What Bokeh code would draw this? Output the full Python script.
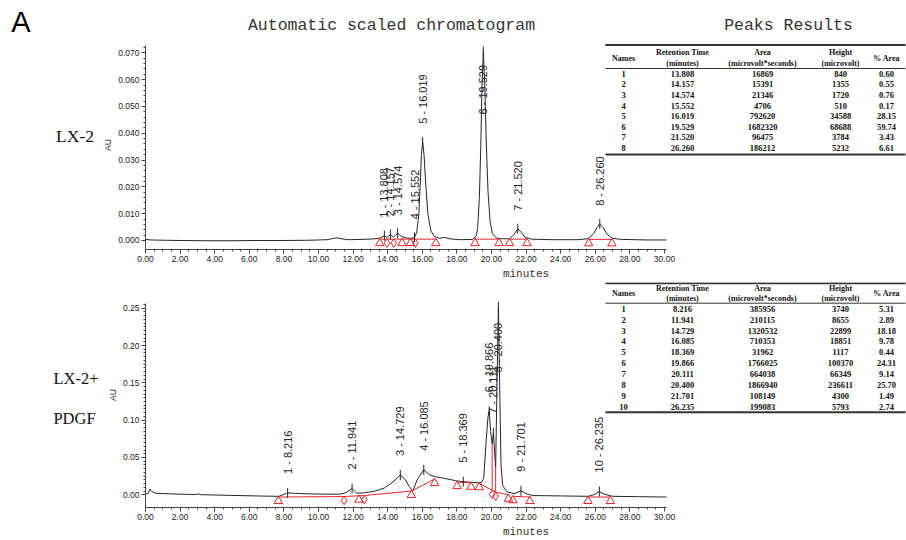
import numpy as np
from bokeh.plotting import figure
from bokeh.models import Range1d, FixedTicker, NumeralTickFormatter, ColumnDataSource
from bokeh.layouts import column, row
from bokeh.embed import file_html
from bokeh.resources import INLINE
from bokeh.core.properties import value

# ---------------- data: LX-2 ----------------
lx2_t = [0.0, 0.3, 1.0, 2.0, 3.5, 5.0, 6.5, 8.0, 9.5, 10.5, 10.8, 11.06, 11.3, 11.7, 12.5,
         13.2, 13.55, 13.808, 13.95, 14.157, 14.33, 14.574, 14.8, 15.1, 15.4, 15.552, 15.68,
         15.8, 15.88, 15.95, 16.019, 16.1, 16.2, 16.32, 16.5, 16.7, 17.0, 17.29, 17.6, 18.2,
         18.9, 19.1, 19.2, 19.3, 19.38, 19.45, 19.529, 19.61, 19.70, 19.80, 19.92, 20.05, 20.3,
         20.7, 21.05, 21.3, 21.52, 21.72, 21.95, 22.3, 23.5, 25.0, 25.6, 25.9, 26.1, 26.26,
         26.45, 26.7, 27.0, 27.5, 29.0, 30.12]
lx2_au = [0.0004, 0.0002, 0.0001, 0.0000, -0.0001, -0.0001, 0.0000, 0.0000, 0.0001, 0.0003,
          0.0007, 0.0010, 0.0007, 0.0003, 0.0004, 0.0006, 0.0009, 0.0018, 0.0011, 0.0022,
          0.0013, 0.0027, 0.0015, 0.0009, 0.0008, 0.0012, 0.0030, 0.0100, 0.0210, 0.0320,
          0.0368, 0.0320, 0.0210, 0.0100, 0.0035, 0.0015, 0.0008, 0.0012, 0.0006, 0.0003,
          0.0004, 0.0015, 0.0045, 0.0160, 0.0350, 0.0580, 0.0705, 0.0580, 0.0360, 0.0180,
          0.0070, 0.0025, 0.0009, 0.0006, 0.0007, 0.0022, 0.0044, 0.0030, 0.0012, 0.0005,
          0.0003, 0.0003, 0.0007, 0.0025, 0.0048, 0.0062, 0.0048, 0.0022, 0.0008, 0.0004,
          0.0002, 0.0002]
lx2_names = [1, 2, 3, 4, 5, 6, 7, 8]
lx2_rt = [13.808, 14.157, 14.574, 15.552, 16.019, 19.529, 21.520, 26.260]
lx2_apex = [0.0018, 0.0022, 0.0027, 0.0012, 0.0368, 0.0705, 0.0044, 0.0062]
lx2_area = [16869, 15391, 21346, 4706, 792620, 1682320, 96475, 186212]
lx2_height = [840, 1355, 1720, 510, 34588, 68688, 3784, 5232]
lx2_pct = [0.60, 0.55, 0.76, 0.17, 28.15, 59.74, 3.43, 6.61]
lx2_base_t = [13.54, 13.96, 14.35, 14.83, 15.32, 15.60, 16.78, 19.05, 20.44, 21.04, 22.05,
              25.62, 26.96]
lx2_base_au = [0.0005, 0.0005, 0.0005, 0.0005, 0.0005, 0.0005, 0.0005, 0.0005, 0.0005,
               0.0005, 0.0005, 0.0004, 0.0004]
lx2_base_kind = ["triangle", "diamond", "diamond", "triangle", "triangle", "diamond",
                 "triangle", "triangle", "triangle", "triangle", "triangle", "triangle",
                 "triangle"]
lx2_base_groups = [[0, 1, 2, 3, 4, 5, 6], [7, 8], [9, 10], [11, 12]]

# ---------------- data: LX-2 + PDGF ----------------
pdgf_t = [0.0, 0.15, 0.25, 0.35, 0.6, 1.5, 2.9, 3.05, 3.2, 5.0, 7.0, 7.7, 8.0, 8.216, 8.6,
          9.5, 10.5, 11.3, 11.6, 11.941, 12.2, 12.6, 13.2, 13.8, 14.3, 14.729, 15.0, 15.25,
          15.45, 15.7, 16.085, 16.4, 16.8, 17.3, 17.9, 18.369, 19.0, 19.4, 19.55, 19.7, 19.8,
          19.866, 19.95, 20.04, 20.111, 20.24, 20.32, 20.4, 20.47, 20.55, 20.65, 20.9, 21.3,
          21.701, 22.0, 22.4, 24.0, 25.6, 25.95, 26.235, 26.5, 27.0, 28.5, 30.12]
pdgf_au = [0.0012, 0.0015, 0.0075, 0.0045, 0.0020, 0.0012, 0.0003, 0.0012, 0.0002, -0.0008,
           -0.0018, -0.0020, 0.0005, 0.0025, 0.0020, 0.0012, 0.0008, 0.0010, 0.0030, 0.0085,
           0.0022, 0.0025, 0.0045, 0.0090, 0.0170, 0.0265, 0.0210, 0.0110, 0.0050, 0.0200,
           0.0335, 0.0270, 0.0240, 0.0220, 0.0190, 0.0175, 0.0165, 0.0160, 0.0220, 0.0750,
           0.1050, 0.1120, 0.0850, 0.0680, 0.0830, 0.0370, 0.1500, 0.2520, 0.1500, 0.0400,
           0.0120, 0.0040, 0.0015, 0.0055, 0.0015, -0.0010, -0.0015, -0.0020, 0.0005, 0.0045,
           0.0010, -0.0020, -0.0025, -0.0030]
pdgf_names = [1, 2, 3, 4, 5, 6, 7, 8, 9, 10]
pdgf_rt = [8.216, 11.941, 14.729, 16.085, 18.369, 19.866, 20.111, 20.400, 21.701, 26.235]
pdgf_apex = [0.0025, 0.0085, 0.0265, 0.0335, 0.0175, 0.1120, 0.0830, 0.2520, 0.0055, 0.0045]
pdgf_area = [385956, 210115, 1320532, 710353, 31962, 1766025, 664038, 1866940, 108149, 199083]
pdgf_height = [3740, 8655, 22899, 18851, 1117, 100370, 66349, 236611, 4300, 5793]
pdgf_pct = [5.31, 2.89, 18.18, 9.78, 0.44, 24.31, 9.14, 25.70, 1.49, 2.74]
pdgf_base_t = [7.68, 11.48, 12.34, 12.65, 15.37, 16.71, 18.01, 18.81, 19.29, 20.04, 20.24,
               20.98, 21.24, 22.22, 25.57, 26.87]
pdgf_base_au = [-0.0030, -0.0023, -0.0013, -0.0010, 0.0050, 0.0210, 0.0170, 0.0160, 0.0155,
                0.0060, 0.0035, 0.0000, -0.0020, -0.0030, -0.0030, -0.0030]
pdgf_base_kind = ["triangle", "diamond", "triangle", "diamond", "triangle", "triangle",
                  "triangle", "triangle", "triangle", "diamond", "diamond", "triangle",
                  "triangle", "triangle", "triangle", "triangle"]
pdgf_base_groups = [[0, 1, 2, 3, 4, 5], [6, 7], [8, 9, 10, 11], [12, 13], [14, 15]]
pdgf_drop_t = [20.04, 20.24]
pdgf_drop_top = [0.0680, 0.0370]
pdgf_drop_bottom = [0.0060, 0.0035]

x_ticks = [0, 2, 4, 6, 8, 10, 12, 14, 16, 18, 20, 22, 24, 26, 28, 30]
lx2_yticks = [0.0, 0.01, 0.02, 0.03, 0.04, 0.05, 0.06, 0.07]
pdgf_yticks = [0.0, 0.05, 0.10, 0.15, 0.20, 0.25]

table_headers = [("Names", ""), ("Retention Time", "(minutes)"), ("Area", "(microvolt*seconds)"),
                 ("Height", "(microvolt)"), ("% Area", "")]

# ---------------- styling / layout ----------------
W = 906
LEFT_W = 100           # column with sample names
MAIN_W = W - LEFT_W
AXW = 45               # y-axis panel width
FRAME_W = MAIN_W - AXW
PX_PER_MIN = 17.3
RED = "#e8262b"
INK = "#262626"
AXC = "#444444"
IMG_X0 = LEFT_W + AXW   # page x of the frame's left edge


def blank(w, h):
    p = figure(width=w, height=h, output_backend="svg", toolbar_location=None,
               x_range=Range1d(0, w), y_range=Range1d(h, 0),
               x_axis_type=None, y_axis_type=None,
               min_border_left=0, min_border_right=0, min_border_top=0, min_border_bottom=0)
    p.outline_line_color = None
    p.xgrid.visible = False
    p.ygrid.visible = False
    return p


def make_fig(h, bottom, yr, ybound, yticks, yminor, yfmt):
    p = figure(width=MAIN_W, height=h, output_backend="svg", toolbar_location=None,
               x_range=Range1d(0, FRAME_W / PX_PER_MIN), y_range=Range1d(*yr),
               min_border_left=AXW, min_border_right=0, min_border_top=0,
               min_border_bottom=bottom)
    p.extra_x_ranges = {"px": Range1d(0, FRAME_W)}
    p.extra_y_ranges = {"px": Range1d(h - bottom, 0)}
    p.xgrid.visible = False
    p.ygrid.visible = False
    p.outline_line_color = None
    p.xaxis.ticker = FixedTicker(ticks=x_ticks, minor_ticks=list(np.arange(0, 30.01, 0.5)))
    p.yaxis.ticker = FixedTicker(ticks=yticks, minor_ticks=yminor)
    p.xaxis.formatter = NumeralTickFormatter(format="0.00")
    p.yaxis.formatter = NumeralTickFormatter(format=yfmt)
    p.xaxis.bounds = (0, 30.12)
    p.yaxis.bounds = ybound
    for ax in (p.xaxis[0], p.yaxis[0]):
        ax.axis_line_color = AXC
        ax.major_tick_line_color = AXC
        ax.minor_tick_line_color = AXC
        ax.major_tick_out = 4
        ax.major_tick_in = 0
        ax.minor_tick_out = 2
        ax.minor_tick_in = 0
        ax.major_label_text_font = "Liberation Sans"
        ax.major_label_text_font_size = "8.5px"
        ax.major_label_text_color = "#222222"
        ax.major_label_standoff = 2
        ax.axis_label_standoff = 3
        ax.axis_label_text_font_style = "normal"
    p.yaxis.axis_label_standoff = 2
    p.xaxis.axis_label = "minutes"
    p.xaxis.axis_label_text_font = "Liberation Mono"
    p.xaxis.axis_label_text_font_size = "11px"
    p.xaxis.axis_label_text_color = "#333333"
    p.yaxis.axis_label = "AU"
    p.yaxis.axis_label_text_font = "Liberation Sans"
    p.yaxis.axis_label_text_font_size = "8.5px"
    p.yaxis.axis_label_text_color = "#222222"
    return p


def draw_chart(p, t, au, names, rt, apex, bt, bau, bkind, groups, h, bottom, yr,
               label_px, clamp):
    frame_h = h - bottom
    ppu = frame_h / (yr[1] - yr[0])
    p.line(t, au, line_color=INK, line_width=1)
    xs = [[bt[i] for i in g] for g in groups]
    ys = [[bau[i] for i in g] for g in groups]
    p.multi_line(xs, ys, line_color=RED, line_width=1)
    msrc = ColumnDataSource(dict(t=bt, y=list(np.array(bau) - 4.0 / ppu), m=bkind))
    p.scatter("t", "y", marker="m", source=msrc, size=8.5, line_color=RED,
              fill_color=None, line_width=1)
    p.scatter(rt, apex, marker="dash", angle=np.pi / 2, size=10, line_color=INK,
              line_width=1)
    labels = [f"{n} - {r:.3f}" for n, r in zip(names, rt)]
    ly = np.minimum(np.array(apex) + label_px / ppu, clamp)
    p.text(x=rt, y=list(ly), text=labels, angle=np.pi / 2, text_align="left",
           text_baseline="middle", text_font=value("Liberation Sans"),
           text_font_size="11px", text_color=INK)


def add_table(p, top_img, names, rt, area, height, pct, y_top, y_h1, y_h2, y_hmid, y_hline,
              y_row0, dy, y_bottom):
    # positions given in page pixels; converted to frame pixels
    colx = [x - IMG_X0 for x in (623, 682, 762, 840, 886)]
    x0, x1 = 605 - IMG_X0, 905 - IMG_X0
    ly = [y - top_img for y in (y_top, y_hline, y_bottom)]
    p.segment(x0=[x0, x0, x0], y0=ly, x1=[x1, x1, x1], y1=ly, line_color="#333333",
              line_width=[2, 1, 2], x_range_name="px", y_range_name="px")
    hx, hy, ht = [], [], []
    for cx, (a, b) in zip(colx, table_headers):
        if b:
            hx += [cx, cx]
            hy += [y_h1 - top_img, y_h2 - top_img]
            ht += [a, b]
        else:
            hx.append(cx)
            hy.append(y_hmid - top_img)
            ht.append(a)
    rx, ry, rtxt = [], [], []
    for i in range(len(names)):
        cells = [str(names[i]), f"{rt[i]:.3f}", str(area[i]), str(height[i]), f"{pct[i]:.2f}"]
        for cx, c in zip(colx, cells):
            rx.append(cx)
            ry.append(y_row0 + i * dy - top_img)
            rtxt.append(c)
    for xs_, ys_, ts_, fs in ((hx, hy, ht, "8px"), (rx, ry, rtxt, "8.5px")):
        p.text(x=xs_, y=ys_, text=ts_, x_range_name="px", y_range_name="px",
               text_align="center", text_baseline="middle",
               text_font=value("Liberation Serif"), text_font_style="bold",
               text_font_size=fs, text_color="#111111")


def put_text(p, x, y, txt, font, size, color="#111111"):
    p.text(x=[x], y=[y], text=[txt], text_align="center", text_baseline="middle",
           text_font=value(font), text_font_size=size, text_color=color)


# ---------------- header strip ----------------
HS = 40
strip = blank(W, HS)
put_text(strip, 20.5, 21.5, "A", "Liberation Sans", "29px", "#000000")
put_text(strip, 391, 25, "Automatic scaled chromatogram", "Liberation Mono", "16.5px", "#333333")
put_text(strip, 788, 25, "Peaks Results", "Liberation Mono", "16.5px", "#333333")

# ---------------- top chart ----------------
H1, B1 = 242, 33
TOP1 = HS                          # page y of the frame top
YR1 = (-0.00336, 0.0746)
p1 = make_fig(H1, B1, YR1, (-0.00336, 0.0727), lx2_yticks,
              list(np.arange(0, 0.0725, 0.002)), "0.000")
draw_chart(p1, lx2_t, lx2_au, lx2_names, lx2_rt, lx2_apex, lx2_base_t, lx2_base_au,
           lx2_base_kind, lx2_base_groups, H1, B1, YR1, 18, 0.047)
add_table(p1, TOP1, lx2_names, lx2_rt, lx2_area, lx2_height, lx2_pct,
          44.5, 51.7, 63.3, 57.5, 68.0, 73.3, 10.57, 154.0)
left1 = blank(LEFT_W, H1)
put_text(left1, 74.5, 110, "LX-2", "Liberation Serif", "17.5px")

# ---------------- bottom chart ----------------
H2, B2 = 258, 33
TOP2 = TOP1 + H1
YR2 = (-0.0170, 0.2844)
p2 = make_fig(H2, B2, YR2, (-0.0170, 0.2563), pdgf_yticks,
              list(np.arange(0, 0.2575, 0.005)), "0.00")
draw_chart(p2, pdgf_t, pdgf_au, pdgf_names, pdgf_rt, pdgf_apex, pdgf_base_t, pdgf_base_au,
           pdgf_base_kind, pdgf_base_groups, H2, B2, YR2, 19, 0.164)
p2.segment(x0=pdgf_drop_t, y0=pdgf_drop_bottom, x1=pdgf_drop_t, y1=pdgf_drop_top,
           line_color=RED, line_width=1)
add_table(p2, TOP2, pdgf_names, pdgf_rt, pdgf_area, pdgf_height, pdgf_pct,
          282.7, 288.0, 298.0, 293.0, 302.7, 308.3, 10.86, 411.7)
left2 = blank(LEFT_W, H2)
put_text(left2, 75.5, 110, "LX-2+", "Liberation Serif", "16.5px")
put_text(left2, 74, 156, "PDGF", "Liberation Serif", "16.5px")

layout = column(strip, row(left1, p1, spacing=0), row(left2, p2, spacing=0), spacing=0)
open("out.html", "w").write(file_html(layout, INLINE))
